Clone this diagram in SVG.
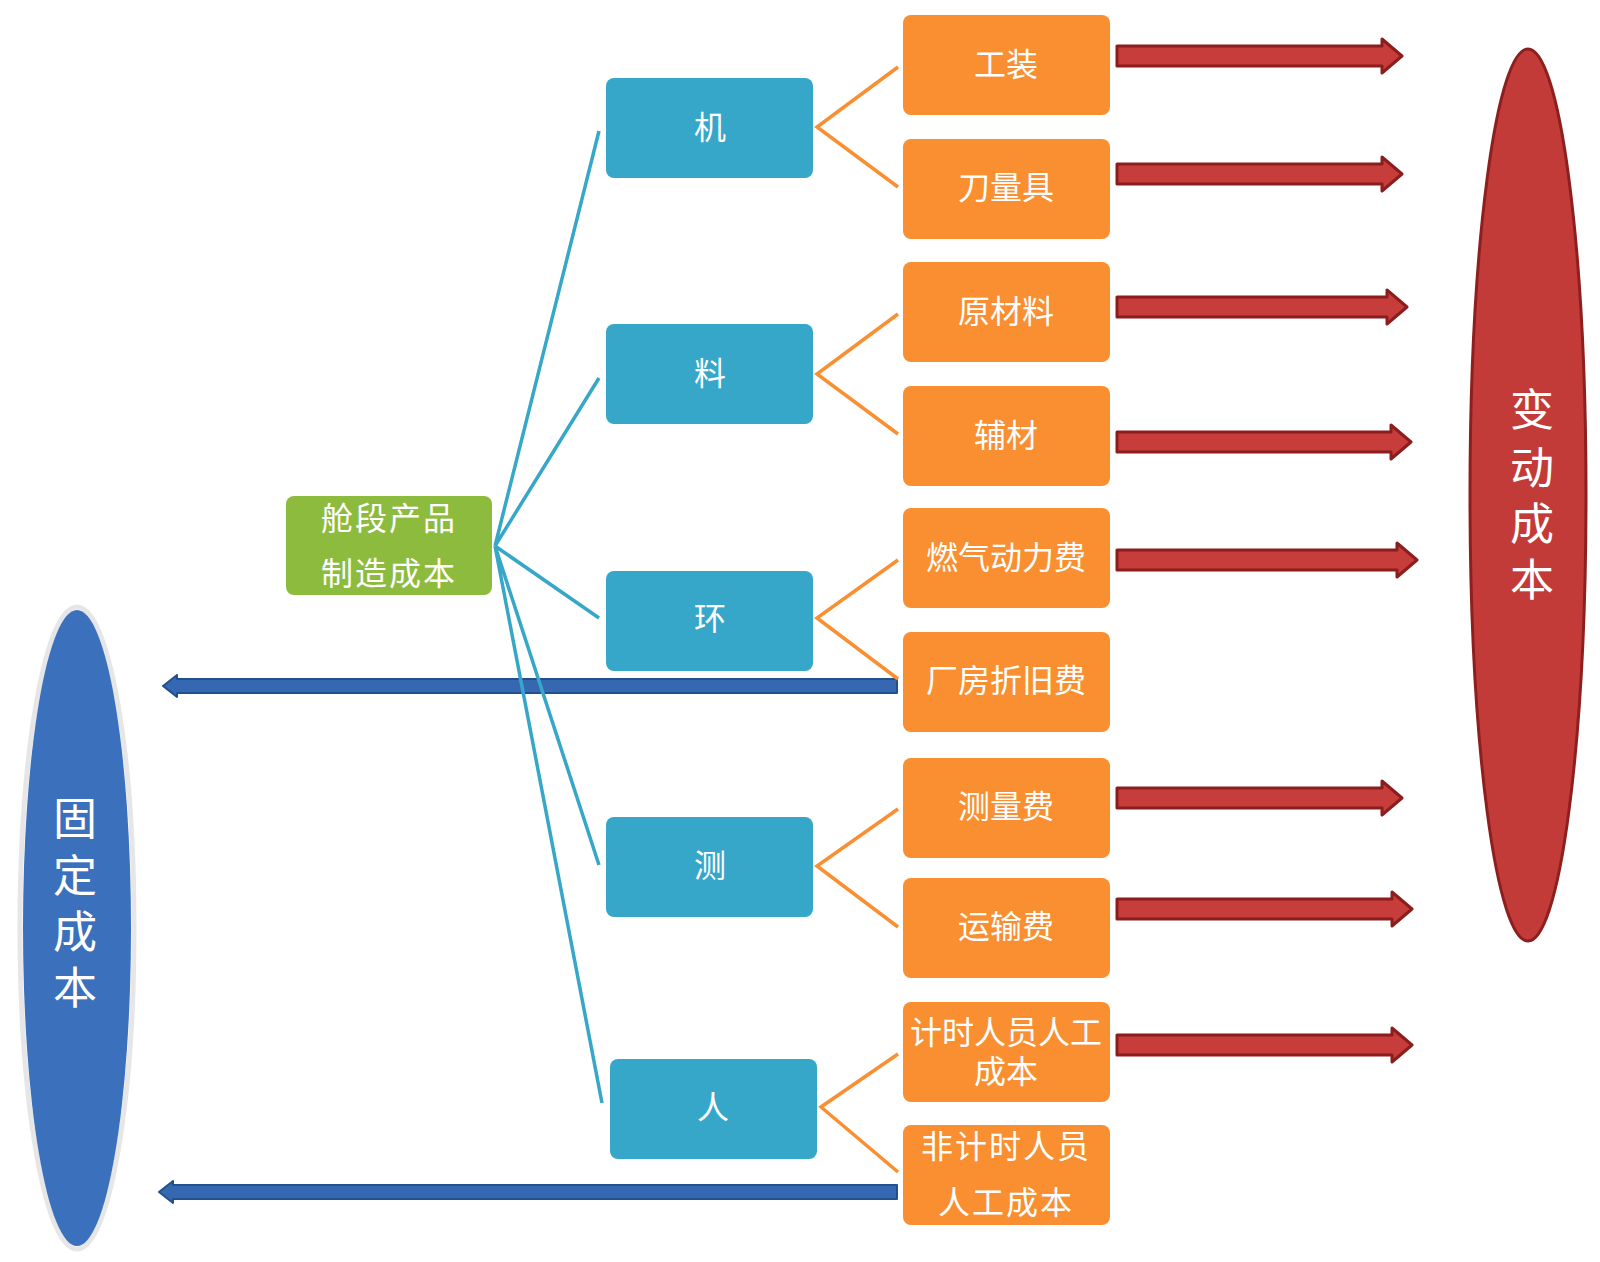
<svg xmlns="http://www.w3.org/2000/svg" width="1600" height="1262" viewBox="0 0 1600 1262">
<style>
.t{font-family:"Noto Sans CJK SC","Noto Sans",sans-serif;fill:#ffffff;text-anchor:middle}
.b{font-size:32px}
.e{font-size:44px}
.or{fill:#F98F30}
.bl{fill:#37A7C9}
.gr{fill:#8DBB3E}
.cl{stroke:#37A7C9;stroke-width:3.5;fill:none}
.ol{stroke:#F98F30;stroke-width:3.5;fill:none}
.ra{fill:#C63D3B;stroke:#8C1D1D;stroke-width:3;stroke-linejoin:round}
.ba{fill:#3568B0;stroke:#22508F;stroke-width:2;stroke-linejoin:round}
</style>
<rect width="1600" height="1262" fill="#ffffff"/>
<g id="fixed-cost">
<ellipse cx="77" cy="928" rx="57" ry="321" fill="none" stroke="#e6e6e6" stroke-width="5"/>
<ellipse cx="77" cy="928" rx="54" ry="318" fill="#3B70BD"/>
<text class="t e" x="75" y="835">固</text>
<text class="t e" x="75" y="892">定</text>
<text class="t e" x="75" y="948">成</text>
<text class="t e" x="75" y="1004">本</text>
</g>
<g id="variable-cost">
<ellipse cx="1528" cy="495" rx="58" ry="446" fill="#C23B38" stroke="#8E1F1F" stroke-width="3"/>
<text class="t e" x="1532" y="426">变</text>
<text class="t e" x="1532" y="484">动</text>
<text class="t e" x="1532" y="540">成</text>
<text class="t e" x="1532" y="596">本</text>
</g>
<g id="arrows">
<path class="ra" d="M1117,46 H1382 V39 L1402,56 L1382,73 V66 H1117 Z"/>
<path class="ra" d="M1117,164 H1382 V157 L1402,174 L1382,191 V184 H1117 Z"/>
<path class="ra" d="M1117,297 H1387 V290 L1407,307 L1387,324 V317 H1117 Z"/>
<path class="ra" d="M1117,432 H1391 V425 L1411,442 L1391,459 V452 H1117 Z"/>
<path class="ra" d="M1117,550 H1397 V543 L1417,560 L1397,577 V570 H1117 Z"/>
<path class="ra" d="M1117,788 H1382 V781 L1402,798 L1382,815 V808 H1117 Z"/>
<path class="ra" d="M1117,899 H1392 V892 L1412,909 L1392,926 V919 H1117 Z"/>
<path class="ra" d="M1117,1035 H1392 V1028 L1412,1045 L1392,1062 V1055 H1117 Z"/>
<path class="ba" d="M897,679 H177 V675 L163,686 L177,697 V693 H897 Z"/>
<path class="ba" d="M897,1185 H173 V1181 L159,1192 L173,1203 V1199 H897 Z"/>
</g>
<g id="connectors">
<path class="cl" d="M495,546 L599,131 M495,546 L599,378 M495,546 L599,618 M495,546 L599,865 M495,546 L602,1103"/>
<path class="ol" d="M898,67 L817,127 L898,187"/>
<path class="ol" d="M898,314 L817,374 L898,434"/>
<path class="ol" d="M898,560 L817,618 L898,679"/>
<path class="ol" d="M898,809 L817,866 L898,927"/>
<path class="ol" d="M898,1054 L821,1107 L898,1172"/>
</g>
<g id="root">
<rect class="gr" x="286" y="496" width="206" height="99" rx="8"/>
<text class="t b" x="389" y="530" letter-spacing="2">舱段产品</text>
<text class="t b" x="389" y="585" letter-spacing="2">制造成本</text>
</g>
<g id="ji"><rect class="bl" x="606" y="78" width="207" height="100" rx="8"/><text class="t b" x="710" y="139">机</text></g>
<g id="liao"><rect class="bl" x="606" y="324" width="207" height="100" rx="8"/><text class="t b" x="710" y="385">料</text></g>
<g id="huan"><rect class="bl" x="606" y="571" width="207" height="100" rx="8"/><text class="t b" x="710" y="630">环</text></g>
<g id="ce"><rect class="bl" x="606" y="817" width="207" height="100" rx="8"/><text class="t b" x="710" y="877">测</text></g>
<g id="ren"><rect class="bl" x="610" y="1059" width="207" height="100" rx="8"/><text class="t b" x="713" y="1119">人</text></g>
<g id="gongzhuang"><rect class="or" x="903" y="15" width="207" height="100" rx="8"/><text class="t b" x="1006" y="76">工装</text></g>
<g id="daoliangju"><rect class="or" x="903" y="139" width="207" height="100" rx="8"/><text class="t b" x="1006" y="199">刀量具</text></g>
<g id="yuancailiao"><rect class="or" x="903" y="262" width="207" height="100" rx="8"/><text class="t b" x="1006" y="323">原材料</text></g>
<g id="fucai"><rect class="or" x="903" y="386" width="207" height="100" rx="8"/><text class="t b" x="1006" y="447">辅材</text></g>
<g id="ranqi"><rect class="or" x="903" y="508" width="207" height="100" rx="8"/><text class="t b" x="1006" y="569">燃气动力费</text></g>
<g id="changfang"><rect class="or" x="903" y="632" width="207" height="100" rx="8"/><text class="t b" x="1006" y="692">厂房折旧费</text></g>
<g id="celiangfei"><rect class="or" x="903" y="758" width="207" height="100" rx="8"/><text class="t b" x="1006" y="818">测量费</text></g>
<g id="yunshufei"><rect class="or" x="903" y="878" width="207" height="100" rx="8"/><text class="t b" x="1006" y="938">运输费</text></g>
<g id="jishi"><rect class="or" x="903" y="1002" width="207" height="100" rx="8"/><text class="t b" x="1006" y="1044">计时人员人工</text><text class="t b" x="1006" y="1083">成本</text></g>
<g id="feijishi"><rect class="or" x="903" y="1125" width="207" height="100" rx="8"/><text class="t b" x="1006" y="1158" letter-spacing="2">非计时人员</text><text class="t b" x="1006" y="1214" letter-spacing="2">人工成本</text></g>
</svg>
